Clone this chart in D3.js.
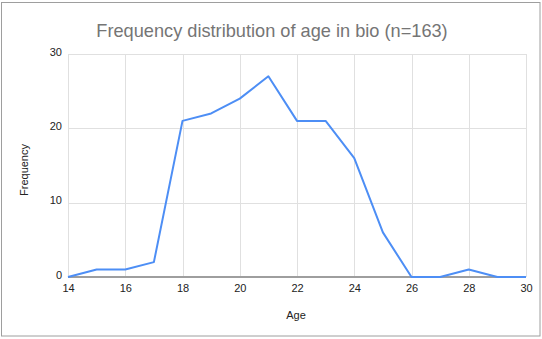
<!DOCTYPE html>
<html><head><meta charset="utf-8">
<script src="https://cdn.jsdelivr.net/npm/d3@7"></script>
<style>body{margin:0;background:#fff;}svg{display:block;font-family:"Liberation Sans",Arial,sans-serif;}</style>
</head><body><svg id="c" width="542" height="339"></svg>
<script>
const ages = [14,15,16,17,18,19,20,21,22,23,24,25,26,27,28,29,30];
const freq = [0,1,1,2,21,22,24,27,21,21,16,6,0,0,1,0,0];
const xTicks = [14,16,18,20,22,24,26,28,30];
const yTicks = [0,10,20,30];
const title = "Frequency distribution of age in bio (n=163)";

const svg = d3.select("#c");
svg.append("rect").attr("x",1.5).attr("y",2.5).attr("width",538.5).attr("height",333.5)
  .attr("fill","#fff").attr("stroke","#9e9e9e").attr("stroke-width",1);

const x = d3.scaleLinear().domain([14,30]).range([68,526]);
const y = d3.scaleLinear().domain([0,30]).range([277,54]);

const g = svg.append("g");
g.selectAll(".vg").data(xTicks).join("line")
  .attr("x1",d=>Math.round(x(d))+0.5).attr("x2",d=>Math.round(x(d))+0.5)
  .attr("y1",y(30)).attr("y2",y(0)).attr("stroke","#e0e0e0");
g.selectAll(".hg").data(yTicks.filter(d=>d>0)).join("line")
  .attr("x1",x(14)).attr("x2",x(30))
  .attr("y1",d=>Math.round(y(d))+0.5).attr("y2",d=>Math.round(y(d))+0.5).attr("stroke","#e0e0e0");

const xa = svg.append("g").attr("transform",`translate(0,${y(0)+6})`)
  .call(d3.axisBottom(x).tickValues(xTicks).tickSize(0).tickPadding(1).tickFormat(d3.format("d")));
xa.select(".domain").remove();
xa.selectAll("text").attr("fill","#222").attr("font-size",11).attr("font-family","Liberation Sans, Arial, sans-serif");

const ya = svg.append("g").attr("transform",`translate(${x(14)-6},0)`)
  .call(d3.axisLeft(y).tickValues(yTicks).tickSize(0).tickPadding(0).tickFormat(d3.format("d")));
ya.select(".domain").remove();
ya.selectAll("text").attr("fill","#222").attr("font-size",11).attr("dy","0.1em").attr("font-family","Liberation Sans, Arial, sans-serif");

svg.append("line").attr("x1",x(14)).attr("x2",x(30)).attr("y1",y(0)).attr("y2",y(0))
  .attr("stroke","#9e9e9e").attr("stroke-width",2);

const line = d3.line().x((d,i)=>x(ages[i])).y(d=>y(d));
svg.append("path").datum(freq).attr("d",line).attr("fill","none")
  .attr("stroke","#4d8ef5").attr("stroke-width",2).attr("stroke-linejoin","round");

svg.append("text").attr("x",272).attr("y",37).attr("text-anchor","middle")
  .attr("font-size",18.2).attr("fill","#757575").text(title);
svg.append("text").attr("x",296).attr("y",319).attr("text-anchor","middle")
  .attr("font-size",11).attr("fill","#222").text("Age");
svg.append("text").attr("transform","translate(28,170) rotate(-90)").attr("text-anchor","middle")
  .attr("font-size",11).attr("fill","#222").text("Frequency");
</script></body></html>
